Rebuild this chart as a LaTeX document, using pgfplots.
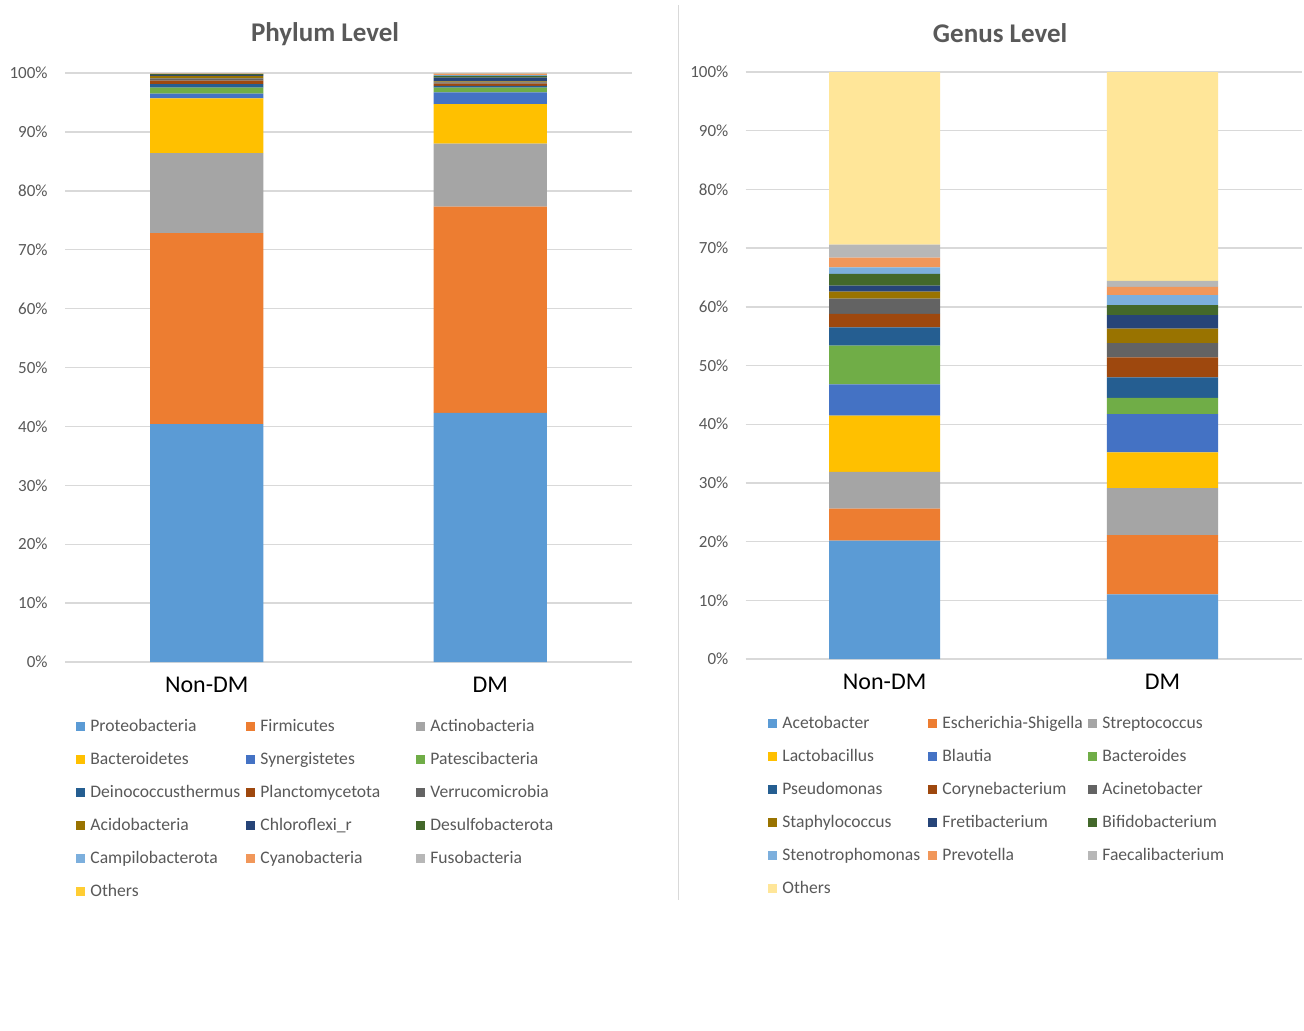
\documentclass[border=0pt]{standalone}
\usepackage{fontspec}
\setmainfont{Carlito}
\usepackage{pgfplots}
\pgfplotsset{compat=1.18}
\usepackage{pgfplotstable}

% Office palette
\definecolor{s1}{HTML}{5B9BD5}
\definecolor{s2}{HTML}{ED7D31}
\definecolor{s3}{HTML}{A5A5A5}
\definecolor{s4}{HTML}{FFC000}
\definecolor{s5}{HTML}{4472C4}
\definecolor{s6}{HTML}{70AD47}
\definecolor{s7}{HTML}{255E91}
\definecolor{s8}{HTML}{9E480E}
\definecolor{s9}{HTML}{636363}
\definecolor{s10}{HTML}{997300}
\definecolor{s11}{HTML}{264478}
\definecolor{s12}{HTML}{43682B}
\definecolor{s13}{HTML}{7CAFDD}
\definecolor{s14}{HTML}{F1975A}
\definecolor{s15}{HTML}{B7B7B7}
\definecolor{s16a}{HTML}{FFCD33}
\definecolor{s16b}{HTML}{FFE699}
\definecolor{txtgray}{HTML}{595959}
\definecolor{gridgray}{HTML}{D9D9D9}

% relative abundance (%), phylum level
\pgfplotstableread{
x Proteo Firm Actino Bactero Synerg Pates Deino Plancto Verruco Acido Chloro Desulfo Campilo Cyano Fuso Others
0 40.4 32.4 13.6 9.3 0.8 1.0 0.6 0.6 0.4 0.4 0.2 0.1 0.05 0.05 0.05 0.05
1 42.3 35.0 10.7 6.7 2.0 0.8 0.3 0.4 0.2 0.2 0.6 0.3 0.15 0.2 0.1 0.05
}\phylum

% relative abundance (%), genus level
\pgfplotstableread{
x Aceto Esch Strep Lacto Blautia Bactero Pseudo Coryne Acineto Staph Freti Bifido Steno Prevo Faecali Others
0 20.15 5.45 6.3 9.55 5.35 6.6 3.1 2.3 2.6 1.2 1.0 2.0 1.1 1.7 2.2 29.4
1 11.0 10.1 8.0 6.1 6.5 2.8 3.5 3.4 2.4 2.5 2.3 1.7 1.7 1.4 1.0 35.6
}\genus

\pgfplotsset{
  panel/.style={
    scale only axis,
    ybar stacked, bar width=0.4,
    xmin=-0.5, xmax=1.5, ymin=0, ymax=100,
    xtick={0,1}, xticklabels={Non-DM,DM},
    ytick={0,10,...,100},
    yticklabel={\pgfmathprintnumber{\tick}\%},
    /pgf/number format/assume math mode=true,
    axis line style={draw=none}, tick style={draw=none},
    ymajorgrids, grid style={color=gridgray, line width=0.7pt},
    yticklabel style={font=\fontsize{8.5}{10}\selectfont, text=txtgray, inner sep=0pt, xshift=-8.5pt},
    xticklabel style={font=\fontsize{12}{14}\selectfont, text=black, inner sep=0pt, yshift=-7.5pt},
    title style={font=\fontsize{13.5}{16}\selectfont\bfseries, text=txtgray, at={(0.5,1)}, anchor=center, yshift=13.5pt, xshift=-11.75pt},
    legend columns=3,
    legend cell align=left,
    legend image code/.code={\fill[##1, draw=none] (0pt,-2.25pt) rectangle (4.5pt,2.25pt);},
    legend style={draw=none, fill=none, inner sep=0pt, anchor=north west,
      font=\fontsize{8.8}{10.5}\selectfont, text=txtgray,
      nodes={inner sep=0pt, text height=6.5pt, text depth=2pt},
      /tikz/every odd column/.append style={column sep=2.5pt},
      /tikz/row sep=8pt},
  },
  every axis plot/.append style={draw=none},
}

\newcommand{\legP}[1]{\makebox[78pt][l]{#1}}
\newcommand{\legG}[1]{\makebox[73pt][l]{#1}}

\begin{document}
\begin{tikzpicture}
\useasboundingbox (0pt,0pt) rectangle (652pt,-515pt);
\fill[white] (0pt,0pt) rectangle (652pt,-515pt);
\draw[gridgray, line width=0.5pt] (339.3pt,-2.5pt) -- (339.3pt,-450pt);

\begin{axis}[panel,
  at={(32.5pt,-331pt)}, anchor=south west,
  width=283.5pt, height=294.5pt,
  title={Phylum Level},
  legend style={at={(0.0194,-0.095)}},
]
\addplot[fill=s1]  table[x=x,y=Proteo]{\phylum};  \addlegendentry{\legP{Proteobacteria}}
\addplot[fill=s2]  table[x=x,y=Firm]{\phylum};    \addlegendentry{\legP{Firmicutes}}
\addplot[fill=s3]  table[x=x,y=Actino]{\phylum};  \addlegendentry{\legP{Actinobacteria}}
\addplot[fill=s4]  table[x=x,y=Bactero]{\phylum}; \addlegendentry{\legP{Bacteroidetes}}
\addplot[fill=s5]  table[x=x,y=Synerg]{\phylum};  \addlegendentry{\legP{Synergistetes}}
\addplot[fill=s6]  table[x=x,y=Pates]{\phylum};   \addlegendentry{\legP{Patescibacteria}}
\addplot[fill=s7]  table[x=x,y=Deino]{\phylum};   \addlegendentry{\legP{Deinococcusthermus}}
\addplot[fill=s8]  table[x=x,y=Plancto]{\phylum}; \addlegendentry{\legP{Planctomycetota}}
\addplot[fill=s9]  table[x=x,y=Verruco]{\phylum}; \addlegendentry{\legP{Verrucomicrobia}}
\addplot[fill=s10] table[x=x,y=Acido]{\phylum};   \addlegendentry{\legP{Acidobacteria}}
\addplot[fill=s11] table[x=x,y=Chloro]{\phylum};  \addlegendentry{\legP{Chloroflexi\_r}}
\addplot[fill=s12] table[x=x,y=Desulfo]{\phylum}; \addlegendentry{\legP{Desulfobacterota}}
\addplot[fill=s13] table[x=x,y=Campilo]{\phylum}; \addlegendentry{\legP{Campilobacterota}}
\addplot[fill=s14] table[x=x,y=Cyano]{\phylum};   \addlegendentry{\legP{Cyanobacteria}}
\addplot[fill=s15] table[x=x,y=Fuso]{\phylum};    \addlegendentry{\legP{Fusobacteria}}
\addplot[fill=s16a] table[x=x,y=Others]{\phylum}; \addlegendentry{\legP{Others}}
\end{axis}

\begin{axis}[panel,
  at={(372.85pt,-329.5pt)}, anchor=south west,
  width=277.9pt, height=293.5pt,
  title={Genus Level},
  legend style={at={(0.0401,-0.095)}},
]
\addplot[fill=s1]  table[x=x,y=Aceto]{\genus};   \addlegendentry{\legG{Acetobacter}}
\addplot[fill=s2]  table[x=x,y=Esch]{\genus};    \addlegendentry{\legG{Escherichia-Shigella}}
\addplot[fill=s3]  table[x=x,y=Strep]{\genus};   \addlegendentry{\legG{Streptococcus}}
\addplot[fill=s4]  table[x=x,y=Lacto]{\genus};   \addlegendentry{\legG{Lactobacillus}}
\addplot[fill=s5]  table[x=x,y=Blautia]{\genus}; \addlegendentry{\legG{Blautia}}
\addplot[fill=s6]  table[x=x,y=Bactero]{\genus}; \addlegendentry{\legG{Bacteroides}}
\addplot[fill=s7]  table[x=x,y=Pseudo]{\genus};  \addlegendentry{\legG{Pseudomonas}}
\addplot[fill=s8]  table[x=x,y=Coryne]{\genus};  \addlegendentry{\legG{Corynebacterium}}
\addplot[fill=s9]  table[x=x,y=Acineto]{\genus}; \addlegendentry{\legG{Acinetobacter}}
\addplot[fill=s10] table[x=x,y=Staph]{\genus};   \addlegendentry{\legG{Staphylococcus}}
\addplot[fill=s11] table[x=x,y=Freti]{\genus};   \addlegendentry{\legG{Fretibacterium}}
\addplot[fill=s12] table[x=x,y=Bifido]{\genus};  \addlegendentry{\legG{Bifidobacterium}}
\addplot[fill=s13] table[x=x,y=Steno]{\genus};   \addlegendentry{\legG{Stenotrophomonas}}
\addplot[fill=s14] table[x=x,y=Prevo]{\genus};   \addlegendentry{\legG{Prevotella}}
\addplot[fill=s15] table[x=x,y=Faecali]{\genus}; \addlegendentry{\legG{Faecalibacterium}}
\addplot[fill=s16b] table[x=x,y=Others]{\genus}; \addlegendentry{\legG{Others}}
\end{axis}
\end{tikzpicture}
\end{document}
